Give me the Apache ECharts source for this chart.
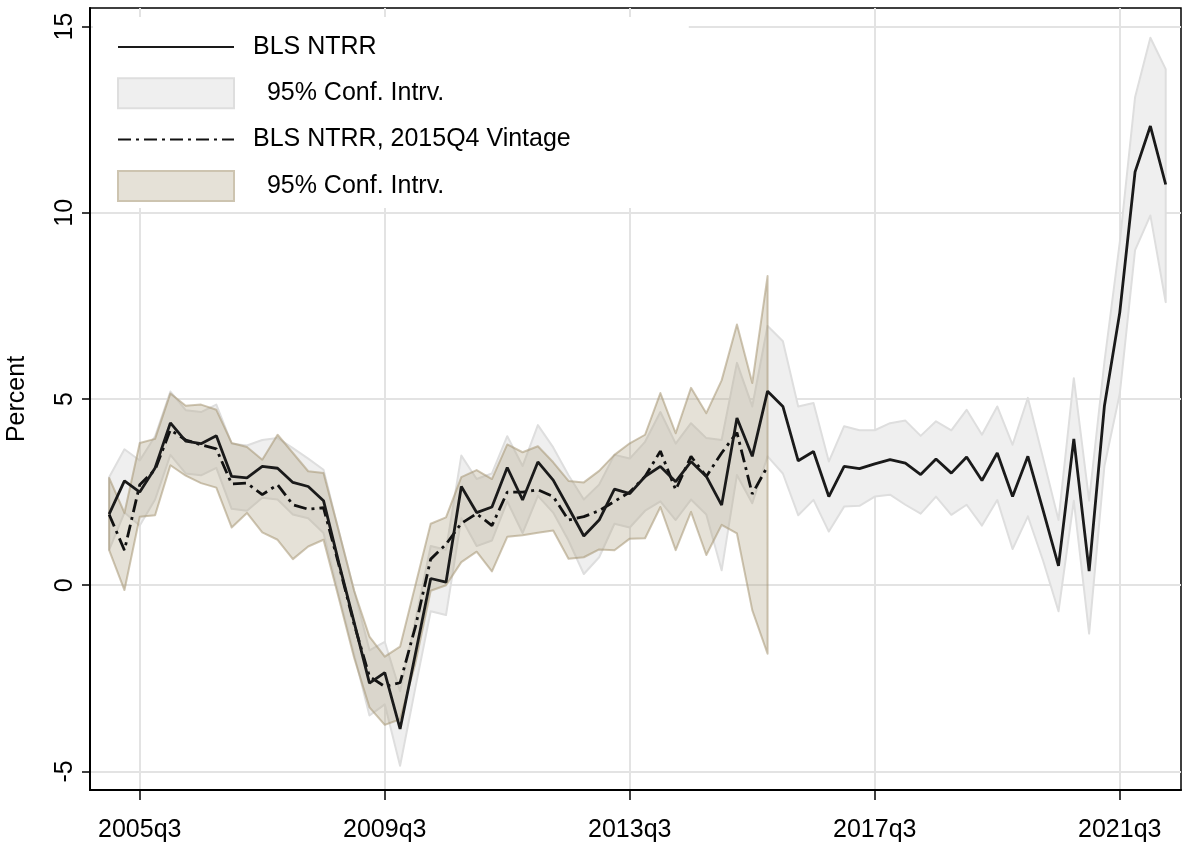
<!DOCTYPE html>
<html>
<head>
<meta charset="utf-8">
<style>
  html, body { margin: 0; padding: 0; background: #fff; }
  #chart { width: 1183px; height: 854px; }
</style>
<script src="https://cdn.jsdelivr.net/npm/echarts/dist/echarts.min.js"></script>
</head>
<body>
<div id="chart"></div>
<script>
// quarters 2005q1 .. 2022q2
const quarters = [];
for (let y = 2005; y <= 2022; y++) {
  for (let q = 1; q <= 4; q++) {
    if (y === 2022 && q > 2) break;
    quarters.push(y + 'q' + q);
  }
}
const tickQuarters = ['2005q3', '2009q3', '2013q3', '2017q3', '2021q3'];
const yTicks = [-5, 0, 5, 10, 15];

// BLS NTRR (all quarters)
const bls = [
  1.91, 2.80, 2.50, 3.15, 4.36, 3.87, 3.80, 4.01, 2.92, 2.88,
  3.19, 3.14, 2.76, 2.65, 2.27, 0.60, -1.00, -2.63, -2.35, -3.86,
  -1.85, 0.18, 0.08, 2.65, 1.95, 2.10, 3.16, 2.29, 3.31, 2.82,
  2.08, 1.32, 1.75, 2.58, 2.46, 2.92, 3.19, 2.78, 3.32, 2.92,
  2.15, 4.49, 3.46, 5.21, 4.80, 3.34, 3.59, 2.38, 3.19, 3.13,
  3.26, 3.37, 3.28, 2.97, 3.39, 3.01, 3.44, 2.81, 3.55, 2.38,
  3.46, 2.00, 0.52, 3.93, 0.38, 4.82, 7.32, 11.10, 12.33, 10.76
];
const blsLo = [
  0.95, 1.95, 1.60, 2.30, 3.50, 3.00, 2.95, 3.15, 2.05, 2.00,
  2.35, 2.30, 1.90, 1.80, 1.40, -0.25, -1.85, -3.50, -3.20, -4.85,
  -2.75, -0.70, -0.80, 1.80, 1.05, 1.20, 2.25, 1.40, 2.40, 1.95,
  1.20, 0.30, 0.75, 1.65, 1.55, 2.00, 2.25, 1.75, 2.30, 1.90,
  0.40, 2.96, 2.20, 3.46, 3.00, 1.88, 2.29, 1.44, 2.11, 2.13,
  2.38, 2.43, 2.16, 1.92, 2.38, 1.89, 2.16, 1.60, 2.29, 0.97,
  1.85, 0.65, -0.70, 2.27, -1.30, 3.20, 5.14, 9.00, 9.93, 7.60
];
const blsHi = [
  2.90, 3.65, 3.35, 4.00, 5.20, 4.70, 4.65, 4.85, 3.80, 3.75,
  3.90, 3.95, 3.68, 3.40, 3.10, 1.45, -0.15, -1.75, -1.52, -2.85,
  -0.95, 1.05, 0.95, 3.48, 2.85, 3.00, 4.00, 3.20, 4.30, 3.70,
  2.95, 2.30, 2.70, 3.50, 3.40, 3.85, 4.65, 3.80, 4.35, 3.95,
  3.90, 5.97, 4.80, 6.96, 6.55, 4.80, 4.89, 3.32, 4.27, 4.16,
  4.16, 4.35, 4.42, 4.01, 4.40, 4.16, 4.71, 4.04, 4.80, 3.77,
  5.03, 3.40, 1.75, 5.56, 2.27, 6.00, 9.20, 13.10, 14.70, 13.86
];

// BLS NTRR, 2015Q4 vintage (2005q1 .. 2015q4)
const vintage = [
  1.90, 0.94, 2.70, 3.10, 4.17, 3.90, 3.77, 3.66, 2.72, 2.74,
  2.43, 2.70, 2.16, 2.04, 2.08, 0.55, -1.05, -2.45, -2.72, -2.62,
  -1.12, 0.70, 1.10, 1.66, 1.92, 1.60, 2.50, 2.50, 2.56, 2.38,
  1.75, 1.84, 2.00, 2.25, 2.50, 2.92, 3.60, 2.56, 3.46, 2.92,
  3.55, 4.10, 2.45, 3.19
];
const vintageLo = [
  0.94, -0.13, 1.84, 1.88, 3.22, 2.94, 2.74, 2.62, 1.55, 1.94,
  1.42, 1.22, 0.70, 1.04, 1.22, -0.35, -1.95, -3.28, -3.75, -3.60,
  -2.10, -0.15, 0.00, 0.62, 0.90, 0.37, 1.30, 1.34, 1.41, 1.47,
  0.71, 0.75, 0.96, 0.94, 1.25, 1.26, 2.10, 0.94, 1.97, 0.81,
  1.62, 1.39, -0.67, -1.84
];
const vintageHi = [
  2.88, 1.94, 3.82, 3.93, 5.15, 4.82, 4.85, 4.71, 3.82, 3.71,
  3.37, 4.04, 3.55, 3.06, 3.01, 1.45, -0.15, -1.38, -1.92, -1.65,
  0.00, 1.65, 1.82, 2.90, 3.09, 2.85, 3.78, 3.57, 3.73, 3.30,
  2.80, 2.76, 3.07, 3.50, 3.81, 4.04, 5.16, 4.08, 5.30, 4.62,
  5.50, 7.00, 5.43, 8.30
];

const FONT = '"Liberation Sans", Arial, sans-serif';
const GRAY_FILL = '#efefef', GRAY_EDGE = '#dedede';
const TAN_FILL = 'rgba(175,163,135,0.33)', TAN_EDGE = 'rgba(165,150,115,0.55)';

// band polygon through the axis scale
function band(lo, hi, fill, stroke) {
  return function (params, api) {
    if (params.dataIndex !== 0) return;
    const pts = [];
    for (let i = 0; i < lo.length; i++) pts.push(api.coord([i, hi[i]]));
    for (let i = lo.length - 1; i >= 0; i--) pts.push(api.coord([i, lo[i]]));
    return {
      type: 'polygon',
      shape: { points: pts },
      style: { fill: fill, stroke: stroke, lineWidth: 2, lineJoin: 'round' }
    };
  };
}

const xTickIdx = tickQuarters.map(q => quarters.indexOf(q));
const chart = echarts.init(document.getElementById('chart'));

chart.setOption({
  animation: false,
  backgroundColor: '#fff',
  textStyle: { fontFamily: FONT },
  grid: {
    left: 90, right: 2, top: 8, bottom: 64,
    containLabel: false, outerBoundsMode: 'none',
    show: true, borderColor: '#000', borderWidth: 1.5
  },
  legend: {
    orient: 'vertical',
    left: 93, top: 17,
    itemWidth: 116, itemHeight: 30, itemGap: 15.3,
    padding: [15, 118, 6, 24],
    backgroundColor: '#fff',
    selectedMode: false,
    textStyle: { fontSize: 25, color: '#000', fontFamily: FONT, padding: [0, 0, 0, 14], lineHeight: 30 },
    data: [
      { name: 'BLS NTRR', itemStyle: { opacity: 0 } },
      { name: '  95% Conf. Intrv.', icon: 'rect', itemStyle: { color: GRAY_FILL, borderColor: GRAY_EDGE, borderWidth: 2 } },
      { name: 'BLS NTRR, 2015Q4 Vintage', itemStyle: { opacity: 0 } },
      { name: '  95% Conf. Intrv. ', icon: 'rect', itemStyle: { color: 'rgb(229,225,215)', borderColor: 'rgb(205,196,176)', borderWidth: 2 } }
    ]
  },
  xAxis: {
    type: 'value',
    min: -1.25, max: 70,
    axisLine: { onZero: false, lineStyle: { color: '#000', width: 2 } },
    axisTick: { customValues: xTickIdx, length: 10, lineStyle: { color: '#000', width: 1.5 } },
    axisLabel: {
      customValues: xTickIdx,
      formatter: v => quarters[Math.round(v)],
      fontSize: 25, color: '#000', margin: 28, fontFamily: FONT
    },
    splitLine: { show: true, lineStyle: { color: '#e3e3e3', width: 2 } }
  },
  yAxis: {
    type: 'value',
    min: -5.5, max: 15.5,
    name: 'Percent',
    nameLocation: 'middle',
    nameGap: 60,
    nameTextStyle: { fontSize: 25, color: '#000', fontFamily: FONT },
    axisLine: { show: true, onZero: false, lineStyle: { color: '#000', width: 2 } },
    axisTick: { show: true, customValues: yTicks, length: 8, lineStyle: { color: '#000', width: 1.5 } },
    axisLabel: { customValues: yTicks, rotate: 90, fontSize: 25, color: '#000', margin: 12, fontFamily: FONT },
    splitLine: { show: true, lineStyle: { color: '#e3e3e3', width: 2 } }
  },
  series: [
    {
      name: '  95% Conf. Intrv.',
      type: 'custom',
      renderItem: band(blsLo, blsHi, GRAY_FILL, GRAY_EDGE),
      itemStyle: { color: GRAY_FILL },
      encode: { x: 0, y: [1, 2] },
      data: blsLo.map((v, i) => [i, v, blsHi[i]]),
      z: 1
    },
    {
      name: '  95% Conf. Intrv. ',
      type: 'custom',
      renderItem: band(vintageLo, vintageHi, TAN_FILL, TAN_EDGE),
      itemStyle: { color: 'rgb(229,225,215)' },
      encode: { x: 0, y: [1, 2] },
      data: vintageLo.map((v, i) => [i, v, vintageHi[i]]),
      z: 2
    },
    {
      name: 'BLS NTRR, 2015Q4 Vintage',
      type: 'line',
      symbol: 'none',
      lineStyle: { color: '#111', width: 2.8, type: [13, 5, 3, 5], cap: 'butt' },
      itemStyle: { color: '#111' },
      data: vintage.map((v, i) => [i, v]),
      z: 3
    },
    {
      name: 'BLS NTRR',
      type: 'line',
      symbol: 'none',
      lineStyle: { color: '#1a1a1a', width: 2.8 },
      itemStyle: { color: '#1a1a1a' },
      data: bls.map((v, i) => [i, v]),
      z: 4
    }
  ]
});
</script>
</body>
</html>
